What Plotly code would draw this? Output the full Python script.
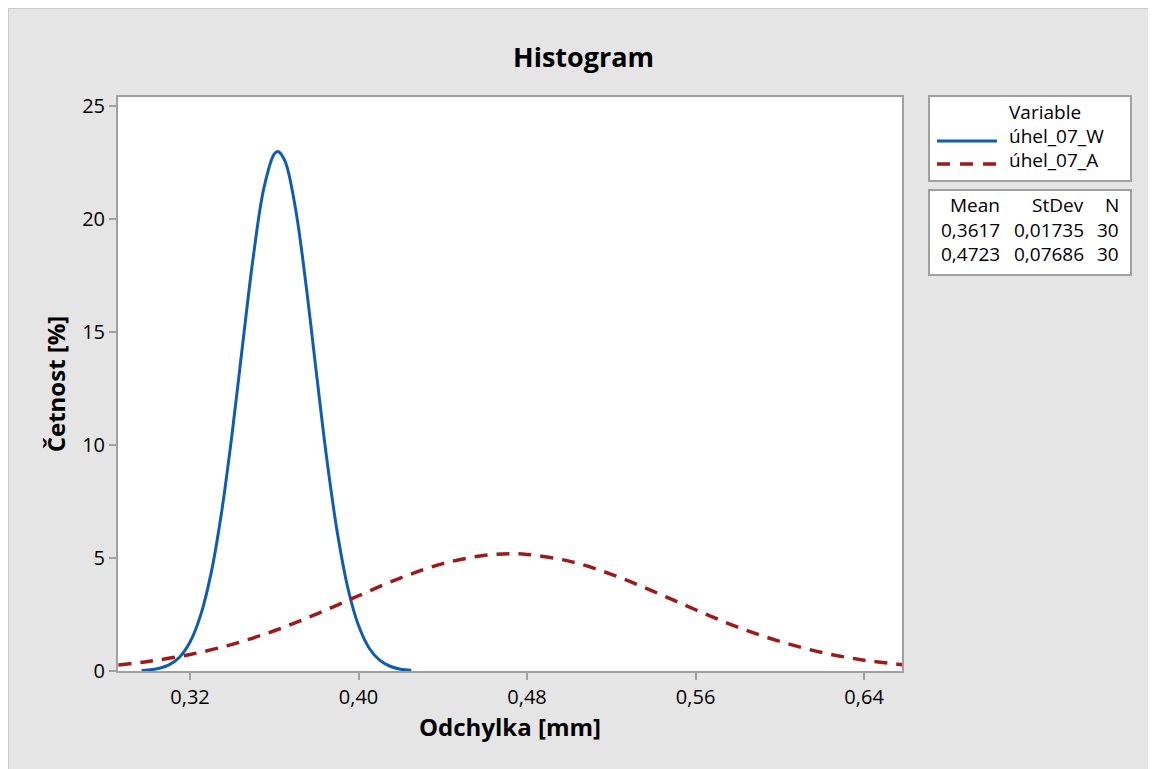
import plotly.graph_objects as go

# ---- data ----
x_w = [0.297, 0.300, 0.305, 0.310, 0.315, 0.320, 0.325, 0.330, 0.335, 0.340, 0.345,
       0.350, 0.355, 0.360, 0.3617, 0.365, 0.370, 0.375, 0.380, 0.385, 0.390, 0.395,
       0.400, 0.405, 0.410, 0.415, 0.420, 0.425]
y_w = [0.02, 0.04, 0.11, 0.27, 0.61, 1.28, 2.46, 4.33, 7.04, 10.52, 14.47,
       18.31, 21.34, 22.88, 22.99, 22.58, 20.50, 17.13, 13.18, 9.33, 6.08, 3.64,
       2.01, 1.02, 0.48, 0.21, 0.08, 0.03]

x_a = [0.286, 0.30, 0.32, 0.34, 0.36, 0.38, 0.40, 0.42, 0.44, 0.46, 0.4723, 0.48,
       0.50, 0.52, 0.54, 0.56, 0.58, 0.60, 0.62, 0.64, 0.658]
y_a = [0.27, 0.42, 0.73, 1.18, 1.78, 2.52, 3.33, 4.12, 4.75, 5.12, 5.19, 5.16,
       4.86, 4.28, 3.52, 2.71, 1.94, 1.31, 0.82, 0.48, 0.28]

x_tick_vals = [0.32, 0.40, 0.48, 0.56, 0.64]
x_tick_text = ["0,32", "0,40", "0,48", "0,56", "0,64"]
y_tick_vals = [0, 5, 10, 15, 20, 25]

series_names = ["úhel_07_W", "úhel_07_A"]
means = ["0,3617", "0,4723"]
stdevs = ["0,01735", "0,07686"]
counts = ["30", "30"]

# ---- layout geometry (pixels, in screenshot coordinates; page has 8px body margin) ----
OFF = 8
W, H = 1156 - OFF, 769 - OFF
L, R, T, B = 118 - OFF, 902 - OFF, 97 - OFF, 671 - OFF

def px(x):
    return (x - OFF - L) / (R - L)

def py(y):
    return (B - (y - OFF)) / (B - T)

BLUE = "#0F5DAE"
RED = "#9C1A1A"
FONT = "Open Sans"
GRAY_BG = "#E5E5E5"
FRAME = "#A0A0A0"

fig = go.Figure()
fig.add_trace(go.Scatter(x=x_w, y=y_w, mode="lines", name=series_names[0],
                         line=dict(color=BLUE, width=3, shape="spline"),
                         showlegend=False))
fig.add_trace(go.Scatter(x=x_a, y=y_a, mode="lines", name=series_names[1],
                         line=dict(color=RED, width=3.5, shape="spline", dash="13px,9px"),
                         showlegend=False))

shapes = []
# thin outer border (top/left)
shapes.append(dict(type="line", xref="paper", yref="paper", x0=px(8.5), x1=px(8.5),
                   y0=py(8), y1=py(800), line=dict(color="#CCCCCC", width=1), layer="above"))
shapes.append(dict(type="line", xref="paper", yref="paper", x0=px(8), x1=px(1200),
                   y0=py(8.5), y1=py(8.5), line=dict(color="#CCCCCC", width=1), layer="above"))
# legend boxes
for y0, y1 in [(96, 181), (190, 275)]:
    shapes.append(dict(type="rect", xref="paper", yref="paper", x0=px(929), x1=px(1131),
                       y0=py(y1), y1=py(y0), fillcolor="white",
                       line=dict(color=FRAME, width=2), layer="above"))
# legend line samples
shapes.append(dict(type="line", xref="paper", yref="paper", x0=px(937), x1=px(997),
                   y0=py(141), y1=py(141), line=dict(color=BLUE, width=3), layer="above"))
shapes.append(dict(type="line", xref="paper", yref="paper", x0=px(937), x1=px(998),
                   y0=py(164), y1=py(164), line=dict(color=RED, width=3.5, dash="13px,10px"),
                   layer="above"))

ann = []
ann.append(dict(text="<b>Histogram</b>", xref="paper", yref="paper", x=px(583), y=py(57),
                xanchor="center", yanchor="middle", showarrow=False,
                font=dict(family=FONT, size=27, color="black")))
lf = dict(family=FONT, size=19, color="black")
ann.append(dict(text="Variable", xref="paper", yref="paper", x=px(1007), y=py(112),
                xanchor="left", yanchor="middle", showarrow=False, font=lf))
ann.append(dict(text=series_names[0], xref="paper", yref="paper", x=px(1007), y=py(136),
                xanchor="left", yanchor="middle", showarrow=False, font=lf))
ann.append(dict(text=series_names[1], xref="paper", yref="paper", x=px(1007), y=py(160),
                xanchor="left", yanchor="middle", showarrow=False, font=lf))
# stats table
rows_y = [205, 230, 254]
cols = [(1002, ["Mean"] + means), (1086, ["StDev"] + stdevs), (1121, ["N"] + counts)]
for xr, texts in cols:
    for yy, t in zip(rows_y, texts):
        ann.append(dict(text=t, xref="paper", yref="paper", x=px(xr), y=py(yy),
                        xanchor="right", yanchor="middle", showarrow=False, font=lf))

fig.update_layout(
    width=W, height=H, autosize=False,
    margin=dict(l=L, r=W - R, t=T, b=H - B, pad=0),
    paper_bgcolor=GRAY_BG, plot_bgcolor="white",
    showlegend=False,
    shapes=shapes, annotations=ann,
    font=dict(family=FONT, color="black"),
    xaxis=dict(range=[0.2858, 0.658], tickvals=x_tick_vals, ticktext=x_tick_text,
               showgrid=False, zeroline=False, showline=True, mirror=True,
               linecolor=FRAME, linewidth=2, ticks="outside", ticklen=7, tickwidth=1.5,
               tickcolor=FRAME, tickfont=dict(family=FONT, size=20, color="black"),
               title=dict(text="<b>Odchylka [mm]</b>", standoff=8,
                          font=dict(family=FONT, size=24, color="black"))),
    yaxis=dict(range=[0, 25.4], tickvals=y_tick_vals,
               showgrid=False, zeroline=False, showline=True, mirror=True,
               linecolor=FRAME, linewidth=2, ticks="outside", ticklen=7, tickwidth=1.5,
               tickcolor=FRAME, tickfont=dict(family=FONT, size=20, color="black"),
               title=dict(text="<b>Četnost [%]</b>", standoff=10,
                          font=dict(family=FONT, size=24, color="black"))),
)

fig.write_html("out.html")
